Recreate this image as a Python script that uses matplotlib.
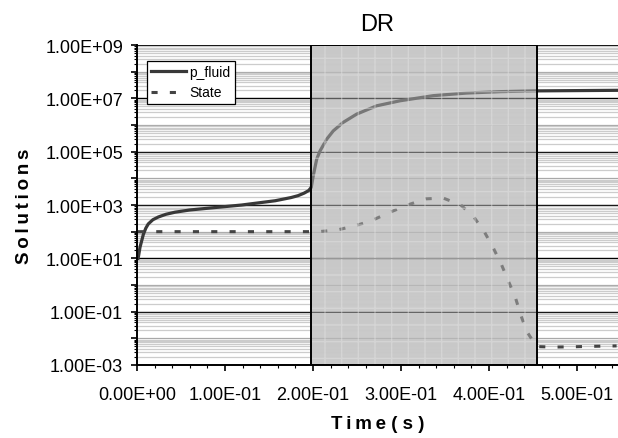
import math
import matplotlib
matplotlib.use("Agg")
import matplotlib.pyplot as plt
import matplotlib.ticker as mticker
from matplotlib.patches import Rectangle

plt.rcParams['font.family'] = ['Liberation Sans', 'DejaVu Sans']

# p_fluid curve (time in s, value)
t_fluid = [0.0012, 0.0015, 0.0034, 0.0072, 0.0100, 0.0128, 0.018, 0.0242, 0.033,
           0.0432, 0.060, 0.081, 0.119, 0.157, 0.175, 0.183, 0.190, 0.195, 0.198,
           0.2003, 0.2042, 0.208, 0.2156, 0.223, 0.2344, 0.2497, 0.2724, 0.2989,
           0.3367, 0.3747, 0.4125, 0.4503, 0.5466]
p_fluid = [10, 11, 26, 79, 135, 195, 280, 355, 450,
           537, 650, 759, 1000, 1445, 1900, 2239, 2800, 3467, 4571,
           1.26e4, 5.25e4, 1.07e5, 2.95e5, 6.0e5, 1.26e6, 2.57e6, 5.25e6, 8.1e6,
           1.26e7, 1.58e7, 1.78e7, 1.9e7, 2.0e7]

# State curve
t_state = [0.001, 0.198, 0.206, 0.227, 0.247, 0.267, 0.2875, 0.3076, 0.328,
           0.348, 0.368, 0.383, 0.395, 0.405, 0.414, 0.422, 0.43, 0.436,
           0.443, 0.454, 0.473, 0.494, 0.515, 0.545]
state = [100, 100, 100, 115, 162, 263, 537, 1000, 1700,
         1820, 1000, 347, 95, 24, 6.0, 1.41, 0.34, 0.076,
         0.018, 0.0049, 0.0047, 0.0048, 0.005, 0.0052]

# DR region
dr_start, dr_end = 0.198, 0.455

fig = plt.figure(figsize=(6.18, 4.39), dpi=100)
ax = fig.add_axes([0.2217, 0.1663, 0.7783, 0.7289])

ax.set_yscale('log')
ax.set_ylim(1e-3, 1e9)
ax.set_xlim(0, 0.5466)

ax.plot(t_fluid, p_fluid, color='#383838', lw=2.3, zorder=2, label='p_fluid')
ax.plot(t_state, state, color='#444444', lw=2.2, dashes=(2.0, 4.0), zorder=2,
        label='State')

# shaded DR block: solid base under the grid, textured veil over the curves
ax.add_patch(Rectangle((dr_start, 1e-3), dr_end - dr_start, 1e9 - 1e-3,
                       facecolor='#cfcfcf', lw=0, zorder=0.5))
ax.add_patch(Rectangle((dr_start, 1e-3), dr_end - dr_start, 1e9 - 1e-3,
                       facecolor='#c4c4c4', edgecolor='#e4e4e4', hatch='+',
                       lw=0, alpha=0.45, zorder=3))
ax.add_patch(Rectangle((dr_start, 1e-3), dr_end - dr_start, 1e9 - 1e-3,
                       facecolor='none', edgecolor='black', lw=1.4, zorder=4))

# y axis ticks and grid
ax.yaxis.set_major_locator(mticker.LogLocator(base=10, numticks=20))
ax.yaxis.set_minor_locator(mticker.LogLocator(base=10, subs=range(2, 10), numticks=20))


def ylab(v, pos):
    e = int(round(math.log10(v)))
    if e % 2 == 0:
        return ''
    return '1.00E%+03d' % e


ax.yaxis.set_major_formatter(mticker.FuncFormatter(ylab))
ax.yaxis.set_minor_formatter(mticker.NullFormatter())

ax.xaxis.set_major_locator(mticker.MultipleLocator(0.1))
ax.xaxis.set_minor_locator(mticker.MultipleLocator(0.02))
ax.xaxis.set_major_formatter(mticker.FuncFormatter(lambda v, p: '%.2E' % v))

ax.tick_params(axis='both', which='major', labelsize=13, direction='out',
               length=4, width=1.2, colors='black')
ax.tick_params(axis='both', which='minor', direction='out', length=2.5, width=0.8)
ax.tick_params(axis='x', which='major', pad=11)
ax.tick_params(axis='y', which='major', pad=6)

ax.grid(False)
ax.grid(True, which='minor', axis='y', color='#cccccc', lw=0.9, zorder=0.8)
for e in range(-3, 10):
    if e % 2 == 1:
        ax.axhline(10.0 ** e, color='black', lw=1.0, zorder=1)
    else:
        ax.axhline(10.0 ** e, color='#a8a8a8', lw=0.9, zorder=1)

for s in ['top', 'right']:
    ax.spines[s].set_visible(False)
ax.spines['left'].set_linewidth(1.4)
ax.spines['bottom'].set_linewidth(1.4)

ax.set_title('DR', fontsize=17, pad=11)
ax.set_xlabel('T\u2009i\u2009m\u2009e ( s )', fontsize=13.5, fontweight='bold', labelpad=9)
ax.set_ylabel('S\u2009o\u2009l\u2009u\u2009t\u2009i\u2009o\u2009n\u2009s', fontsize=13.5,
              fontweight='bold', labelpad=9)

leg = ax.legend(loc='upper left', bbox_to_anchor=(0.021, 0.95), borderaxespad=0,
                fontsize=10, handlelength=2.5, fancybox=False, framealpha=1,
                edgecolor='black', borderpad=0.3, labelspacing=0.45,
                handletextpad=0.25)
leg.get_frame().set_linewidth(0.9)
leg.set_zorder(5)

fig.savefig('out.png', dpi=100)
